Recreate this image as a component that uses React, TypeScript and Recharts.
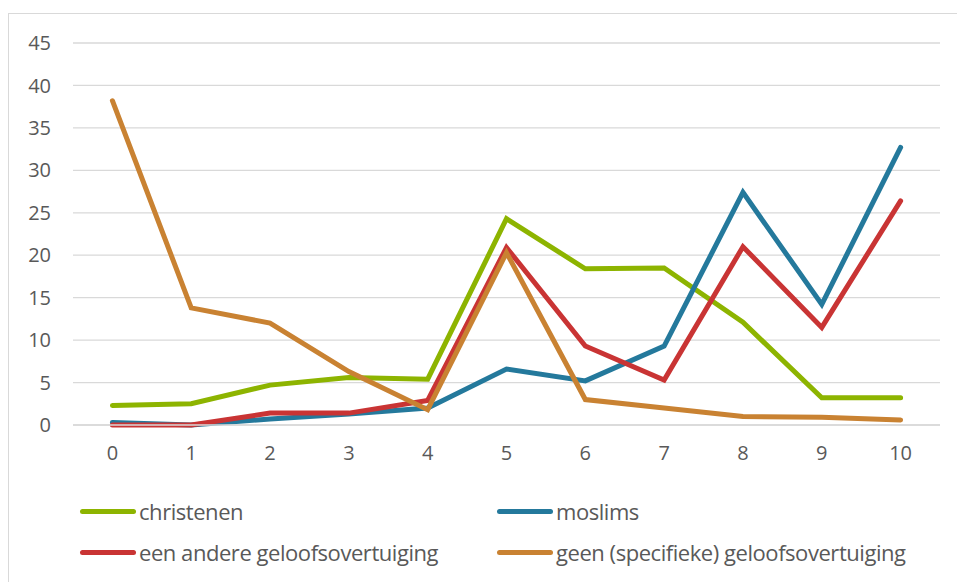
import React from 'react';
import { LineChart, Line, XAxis, YAxis, CartesianGrid } from 'recharts';

const categories = ['0', '1', '2', '3', '4', '5', '6', '7', '8', '9', '10'];
const christenen = [2.3, 2.5, 4.7, 5.6, 5.4, 24.3, 18.4, 18.5, 12.1, 3.2, 3.2];
const moslims = [0.3, 0, 0.7, 1.3, 2.0, 6.6, 5.2, 9.3, 27.4, 14.2, 32.7];
const andere = [0, 0, 1.4, 1.4, 2.9, 20.9, 9.3, 5.3, 21.0, 11.5, 26.4];
const geen = [38.2, 13.8, 12.0, 6.3, 1.8, 20.3, 3.0, 2.0, 1.0, 0.9, 0.6];
const yTicks = [0, 5, 10, 15, 20, 25, 30, 35, 40, 45];

const series = [
  { key: 'christenen', name: 'christenen', color: '#8DB400' },
  { key: 'moslims', name: 'moslims', color: '#24799C' },
  { key: 'andere', name: 'een andere geloofsovertuiging', color: '#C93434' },
  { key: 'geen', name: 'geen (specifieke) geloofsovertuiging', color: '#C98232' },
];

const data = categories.map((c, i) => ({
  cat: c,
  christenen: christenen[i],
  moslims: moslims[i],
  andere: andere[i],
  geen: geen[i],
}));

const textColor = '#595959';
const font = '"Open Sans", sans-serif';

// legend drawn as plain html under the plot so it doesn't shrink the plot area
const LegendBox = () => (
  <div style={{ position: 'absolute', left: 0, top: 496, width: 957, height: 80, fontFamily: font, color: textColor, fontSize: 22 }}>
    {series.map((s, i) => {
      const left = i % 2 === 0 ? 80 : 497;
      const top = i < 2 ? 0 : 41;
      return (
        <div key={s.key} style={{ position: 'absolute', left, top, display: 'flex', alignItems: 'center', height: 30 }}>
          <span style={{ display: 'inline-block', width: 56, height: 5, borderRadius: 3, background: s.color, marginRight: 3 }} />
          <span style={{ letterSpacing: -0.45, whiteSpace: 'nowrap' }}>{s.name}</span>
        </div>
      );
    })}
  </div>
);

export default function App() {
  return (
    <div style={{ position: 'absolute', left: 0, top: 0, width: 957, height: 582, background: '#fff', overflow: 'hidden' }}>
      <div style={{ position: 'absolute', left: 8, top: 13, width: 970, height: 600, border: '1.5px solid #d9d9d9' }} />
      <LineChart width={957} height={582} data={data} margin={{ top: 43, right: 17, left: 0, bottom: 131 }}>
        <CartesianGrid vertical={false} stroke="#d9d9d9" strokeWidth={1.3} />
        <XAxis
          dataKey="cat"
          padding={{ left: 39.4, right: 39.4 }}
          axisLine={{ stroke: '#d9d9d9', strokeWidth: 1.3 }}
          tickLine={false}
          tickSize={0}
          tickMargin={21}
          height={26}
          tick={{ fill: textColor, fontSize: 20, fontFamily: font }}
        />
        <YAxis
          domain={[0, 45]}
          ticks={yTicks}
          width={73}
          axisLine={false}
          tickLine={false}
          tickSize={0}
          tickMargin={22}
          tick={{ fill: textColor, fontSize: 20, fontFamily: font }}
        />
        {series.map((s) => (
          <Line
            key={s.key}
            type="linear"
            dataKey={s.key}
            name={s.name}
            stroke={s.color}
            strokeWidth={5}
            strokeLinecap="round"
            dot={false}
            activeDot={false}
            isAnimationActive={false}
          />
        ))}
      </LineChart>
      <LegendBox />
    </div>
  );
}
